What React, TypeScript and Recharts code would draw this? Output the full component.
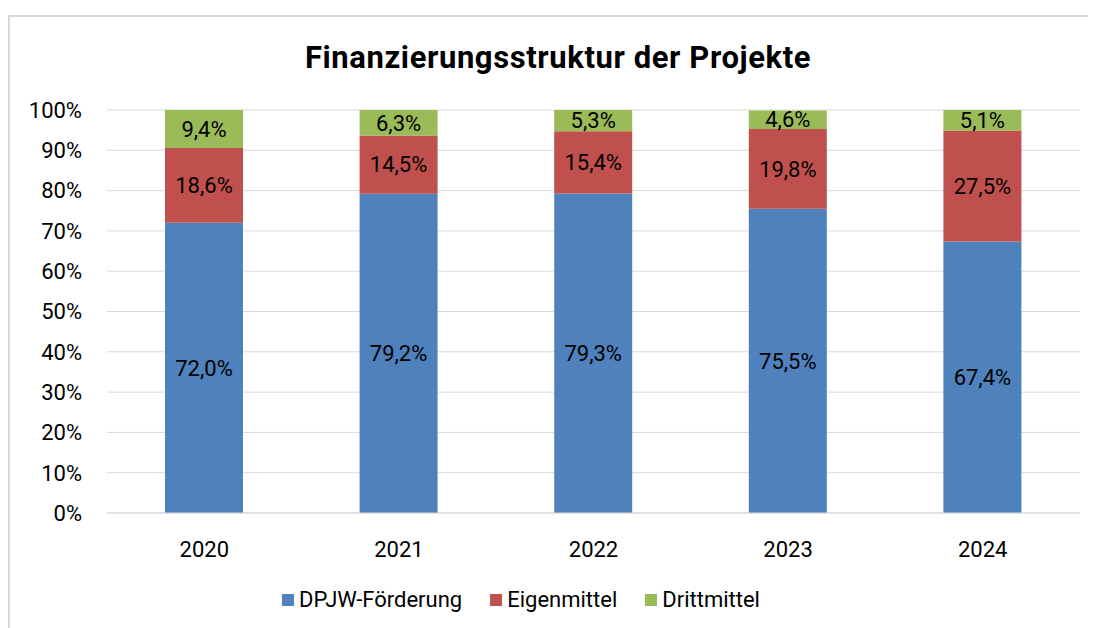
import React from 'react';
import { BarChart, Bar, XAxis, YAxis, CartesianGrid, Legend, LabelList } from 'recharts';

// Finanzierungsstruktur in Prozent je Jahr
const years = ['2020', '2021', '2022', '2023', '2024'];
const dpjw = [72.0, 79.2, 79.3, 75.5, 67.4];
const eigen = [18.6, 14.5, 15.4, 19.8, 27.5];
const dritt = [9.4, 6.3, 5.3, 4.6, 5.1];
const yTicks = [0, 10, 20, 30, 40, 50, 60, 70, 80, 90, 100];

const series = [
  { key: 'dpjw', name: 'DPJW-Förderung', color: '#4f81bd' },
  { key: 'eigen', name: 'Eigenmittel', color: '#c0504d' },
  { key: 'dritt', name: 'Drittmittel', color: '#9bbb59' },
];

const data = years.map((year, i) => ({
  year,
  dpjw: dpjw[i],
  eigen: eigen[i],
  dritt: dritt[i],
}));

const FONT = 'Roboto, "DejaVu Sans", sans-serif';

const fmt = (v: any) => Number(v).toFixed(1).replace('.', ',') + '%';

const LegendContent = () => (
  <div style={{ display: 'flex', justifyContent: 'center', fontFamily: FONT, fontSize: 22, color: '#000' }}>
    {series.map((s) => (
      <div key={s.key} style={{ display: 'flex', alignItems: 'center', margin: '0 14px' }}>
        <span style={{ display: 'inline-block', width: 12, height: 12, background: s.color, marginRight: 5 }} />
        <span>{s.name}</span>
      </div>
    ))}
  </div>
);

const App = () => {
  return (
    <div
      style={{
        position: 'relative',
        width: 1088,
        height: 613,
        marginTop: 7,
        borderTop: '2px solid #d9d9d9',
        borderLeft: '2px solid #d9d9d9',
        boxSizing: 'border-box',
        background: '#fff',
        overflow: 'hidden',
      }}
    >
      <div
        style={{
          position: 'absolute',
          left: 8,
          top: 22,
          width: 1080,
          textAlign: 'center',
          fontFamily: FONT,
          fontWeight: 'bold',
          fontSize: 31,
          letterSpacing: 0.6,
          color: '#000',
        }}
      >
        Finanzierungsstruktur der Projekte
      </div>
      <BarChart
        width={1080}
        height={611}
        data={data}
        margin={{ top: 93, right: 10, left: 0, bottom: 60 }}
      >
        <CartesianGrid vertical={false} stroke="#d9d9d9" />
        <XAxis
          dataKey="year"
          axisLine={{ stroke: '#d9d9d9' }}
          tickLine={false}
          tickMargin={22}
          tick={{ fill: '#000', fontSize: 22, fontFamily: FONT }}
        />
        <YAxis
          width={97}
          domain={[0, 100]}
          ticks={yTicks}
          interval={0}
          axisLine={false}
          tickLine={false}
          tickMargin={19}
          tickFormatter={(v) => v + '%'}
          tick={{ fill: '#000', fontSize: 22, fontFamily: FONT }}
        />
        <Legend content={<LegendContent />} wrapperStyle={{ top: 570, left: -29, width: 1080 }} />
        {series.map((s) => (
          <Bar
            key={s.key}
            dataKey={s.key}
            name={s.name}
            stackId="a"
            fill={s.color}
            barSize={78}
            isAnimationActive={false}
          >
            <LabelList
              dataKey={s.key}
              position="center"
              formatter={fmt}
              fill="#000"
              style={{ fontSize: 22, fontFamily: FONT }}
            />
          </Bar>
        ))}
      </BarChart>
    </div>
  );
};

export default App;
